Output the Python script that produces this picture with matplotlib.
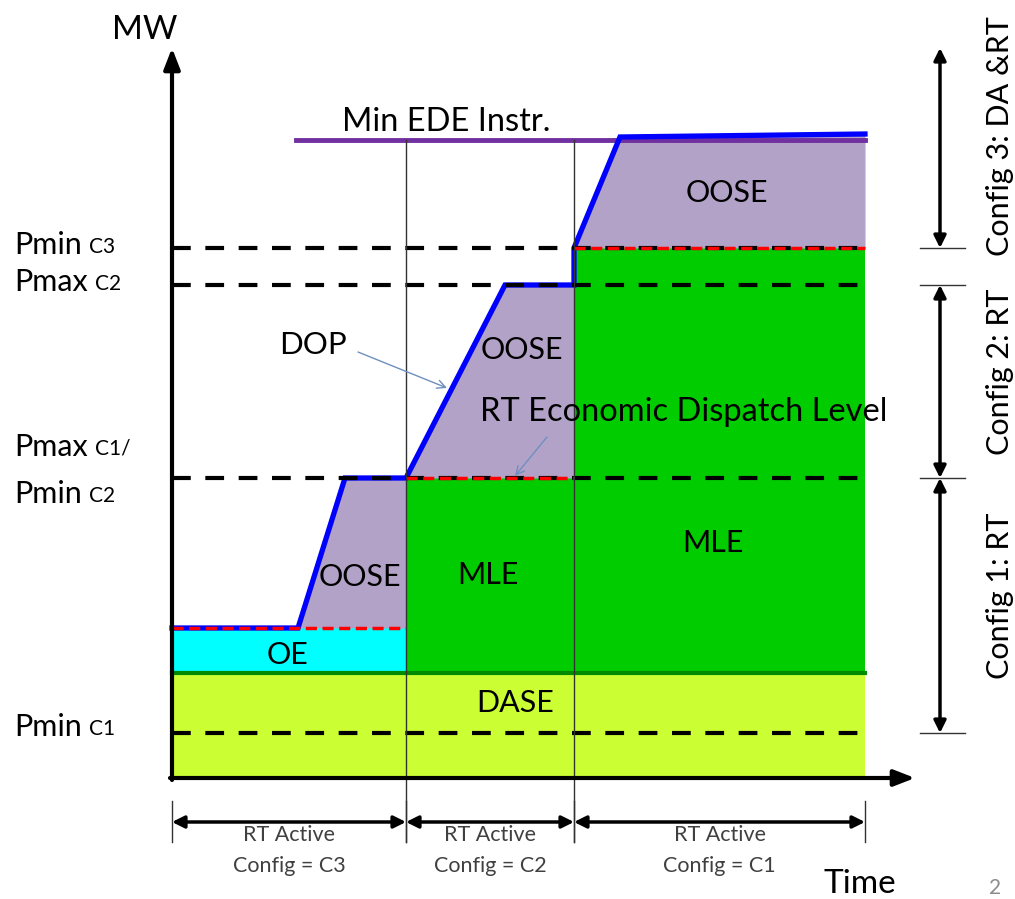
import matplotlib.pyplot as plt

plt.rcParams['font.family'] = ['Lato', 'DejaVu Sans']

# time breakpoints (arbitrary units): start of C3, C2, C1 configs and end
config_edges = [0.0, 23.4, 40.2, 69.3]
config_names = ['C3', 'C2', 'C1']

# MW levels (arbitrary units)
pmin_c1 = 4.5
dase_top = 10.5
oe_top = 15.0
pmax_c1 = 30.0
pmax_c2 = 49.3
pmin_c3 = 53.0
min_ede = 63.8
min_ede_start = 12.4

# dispatch operating point (DOP) trajectory
dop_t = [0.0, 12.6, 17.3, 23.4, 33.3, 40.2, 40.2, 44.8, 69.3]
dop_mw = [15.0, 15.0, 30.0, 30.0, 49.3, 49.3, 53.0, 64.1, 64.4]

# left-hand level labels: (main text, subscript, MW position)
left_main = ['Pmin', 'Pmax', 'Pmax', 'Pmin', 'Pmin']
left_sub = ['C3', 'C2', 'C1/', 'C2', 'C1']
left_pos = [53.3, 49.6, 33.1, 28.4, 5.1]

# right-hand config ranges
config_ranges = [(73.0, pmin_c3), (pmax_c2, pmax_c1), (pmax_c1, pmin_c1)]
config_texts = ['Config 3: DA &RT', 'Config 2: RT', 'Config 1: RT']
config_text_pos = [64.2, 40.6, 18.2]

DASE = '#CCFF33'
OE = '#00FFFF'
MLE = '#00CC00'
OOSE = '#B3A2C7'

fig = plt.figure(figsize=(10.15, 8.99), dpi=100)
ax = fig.add_axes([0, 0, 1, 1])
ax.set_xlim(-17.2, 84.3)
ax.set_ylim(-12.1, 77.8)
ax.axis('off')

t0, t_c2, t_c1, t_end = config_edges

# filled regions
ax.fill_between([t0, t_end], 0, dase_top, color=DASE, lw=0)
ax.fill_between([t0, t_c2], dase_top, oe_top, color=OE, lw=0)
ax.fill_between([t_c2, t_c1], dase_top, pmax_c1, color=MLE, lw=0)
ax.fill_between([t_c1, t_end], dase_top, pmin_c3, color=MLE, lw=0)
ax.fill_between(dop_t[1:4], oe_top, dop_mw[1:4], color=OOSE, lw=0)
ax.fill_between(dop_t[3:6], pmax_c1, dop_mw[3:6], color=OOSE, lw=0)
ax.fill_between(dop_t[6:], pmin_c3, dop_mw[6:], color=OOSE, lw=0)

# DASE / OE boundary
ax.plot([t0, t_end], [dase_top, dase_top], color='#008A00', lw=3)

# min EDE instruction
ax.plot([min_ede_start, t_end], [min_ede, min_ede], color='#7030A0', lw=3.5)

# DOP
ax.plot(dop_t, dop_mw, color='#0000FF', lw=3.8, solid_joinstyle='miter')

# dashed level lines
for lv in [pmin_c3, pmax_c2, pmax_c1, pmin_c1]:
    ax.plot([t0, t_end], [lv, lv], color='black', lw=3, dashes=(4.5, 3.5))

# RT economic dispatch level
for a, b, lv in zip(config_edges[:-1], config_edges[1:], [oe_top, pmax_c1, pmin_c3]):
    ax.plot([a, b], [lv, lv], color='#FF0000', lw=2.5, dashes=(3.2, 1.6))

# config boundaries
for tc in [t_c2, t_c1]:
    ax.plot([tc, tc], [min_ede, -6.4], color='#333333', lw=1)

# axes with arrows
axis_kw = dict(arrowstyle='-|>,head_length=0.9,head_width=0.35', lw=3,
               color='black', shrinkA=0, shrinkB=0, mutation_scale=14)
ax.annotate('', xy=(0, 73.0), xytext=(0, -0.2), arrowprops=axis_kw)
ax.annotate('', xy=(74.3, 0), xytext=(-0.2, 0), arrowprops=axis_kw)
ax.text(-2.7, 74.8, 'MW', fontsize=24, ha='center', va='center')
ax.text(68.8, -10.6, 'Time', fontsize=24, ha='center', va='center')

# left labels
for main, sub, pos in zip(left_main, left_sub, left_pos):
    t = ax.text(-15.8, pos, main, fontsize=22, ha='left', va='center')
    ax.annotate(sub, xy=(1, 0.22), xycoords=t, xytext=(5, 0),
                textcoords='offset points', fontsize=15, ha='left',
                va='baseline')

# region labels
ax.text(55.5, 58.5, 'OOSE', fontsize=22, ha='center', va='center')
ax.text(35.0, 42.8, 'OOSE', fontsize=22, ha='center', va='center')
ax.text(18.8, 20.1, 'OOSE', fontsize=22, ha='center', va='center')
ax.text(31.6, 20.3, 'MLE', fontsize=22, ha='center', va='center')
ax.text(54.1, 23.5, 'MLE', fontsize=22, ha='center', va='center')
ax.text(11.6, 12.3, 'OE', fontsize=22, ha='center', va='center')
ax.text(34.3, 7.5, 'DASE', fontsize=22, ha='center', va='center')
ax.text(27.4, 65.6, 'Min EDE Instr.', fontsize=23.5, ha='center',
        va='center')

# pointer annotations
ptr_kw = dict(arrowstyle='->,head_length=0.6,head_width=0.3', lw=1,
              color='#6F8FBF', shrinkA=0, shrinkB=0)
ax.text(14.1, 43.3, 'DOP', fontsize=22.5, ha='center', va='center')
ax.annotate('', xy=(27.5, 39.0), xytext=(18.6, 42.6), arrowprops=ptr_kw)
ax.text(51.2, 36.6, 'RT Economic Dispatch Level', fontsize=23.5,
        ha='center', va='center')
ax.annotate('', xy=(34.3, 30.2), xytext=(37.5, 34.1), arrowprops=ptr_kw)

# bottom: active config periods
dbl_kw = dict(arrowstyle='<|-|>,head_length=0.6,head_width=0.3', lw=2.5,
              color='black', shrinkA=0, shrinkB=0, mutation_scale=12)
for tc in config_edges:
    ax.plot([tc, tc], [-2.3, -6.4], color='#333333', lw=1)
for a, b, name in zip(config_edges[:-1], config_edges[1:], config_names):
    ax.annotate('', xy=(b, -4.4), xytext=(a, -4.4), arrowprops=dbl_kw)
    ax.text((a + b) / 2, -5.7, 'RT Active', fontsize=15.5, color='#404040',
            ha='center', va='center')
    ax.text((a + b) / 2, -8.8, 'Config = ' + name, fontsize=15.5,
            color='#404040', ha='center', va='center')

# right: config MW ranges
for lv in [pmin_c3, pmax_c2, pmax_c1, pmin_c1]:
    ax.plot([74.8, 79.3], [lv, lv], color='#333333', lw=1)
for (hi, lo), txt, pos in zip(config_ranges, config_texts, config_text_pos):
    ax.annotate('', xy=(76.8, lo), xytext=(76.8, hi), arrowprops=dbl_kw)
    ax.text(82.8, pos, txt, fontsize=22, rotation=90, ha='center',
            va='center')

ax.text(82.3, -11.0, '2', fontsize=15, color='#8C8C8C', ha='center',
        va='center')

fig.savefig('out.png', dpi=100)
